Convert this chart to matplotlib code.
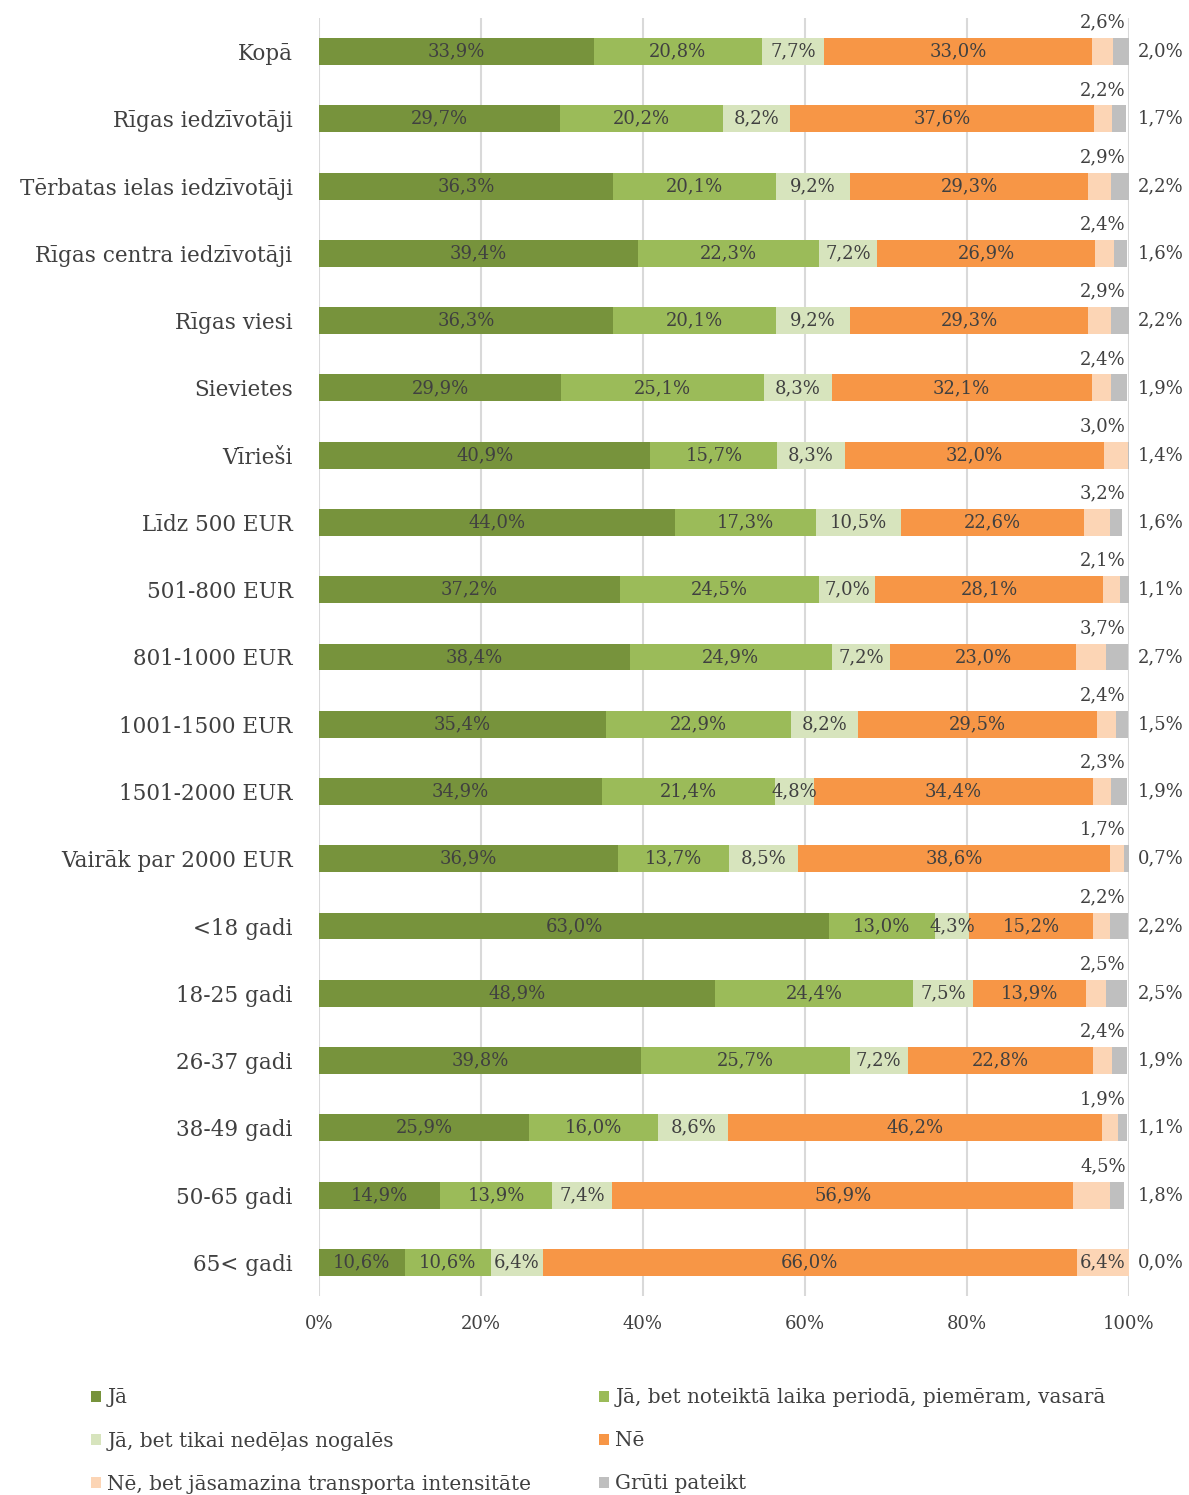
import numpy as np
import matplotlib
matplotlib.use('Agg')
import matplotlib.pyplot as plt
from matplotlib.patches import Patch

plt.rcParams['font.family'] = ['DejaVu Serif']

# Kategorijas (no augšas uz leju)
categories = ['Kopā', 'Rīgas iedzīvotāji', 'Tērbatas ielas iedzīvotāji',
              'Rīgas centra iedzīvotāji', 'Rīgas viesi', 'Sievietes', 'Vīrieši',
              'Līdz 500 EUR', '501-800 EUR', '801-1000 EUR', '1001-1500 EUR',
              '1501-2000 EUR', 'Vairāk par 2000 EUR', '<18 gadi', '18-25 gadi',
              '26-37 gadi', '38-49 gadi', '50-65 gadi', '65< gadi']

series_names = ['Jā', 'Jā, bet noteiktā laika periodā, piemēram, vasarā',
                'Jā, bet tikai nedēļas nogalēs', 'Nē',
                'Nē, bet jāsamazina transporta intensitāte', 'Grūti pateikt']

ja = [33.9, 29.7, 36.3, 39.4, 36.3, 29.9, 40.9, 44.0, 37.2, 38.4, 35.4, 34.9, 36.9, 63.0, 48.9, 39.8, 25.9, 14.9, 10.6]
ja_periods = [20.8, 20.2, 20.1, 22.3, 20.1, 25.1, 15.7, 17.3, 24.5, 24.9, 22.9, 21.4, 13.7, 13.0, 24.4, 25.7, 16.0, 13.9, 10.6]
ja_nedelas = [7.7, 8.2, 9.2, 7.2, 9.2, 8.3, 8.3, 10.5, 7.0, 7.2, 8.2, 4.8, 8.5, 4.3, 7.5, 7.2, 8.6, 7.4, 6.4]
ne = [33.0, 37.6, 29.3, 26.9, 29.3, 32.1, 32.0, 22.6, 28.1, 23.0, 29.5, 34.4, 38.6, 15.2, 13.9, 22.8, 46.2, 56.9, 66.0]
ne_samazina = [2.6, 2.2, 2.9, 2.4, 2.9, 2.4, 3.0, 3.2, 2.1, 3.7, 2.4, 2.3, 1.7, 2.2, 2.5, 2.4, 1.9, 4.5, 6.4]
gruti = [2.0, 1.7, 2.2, 1.6, 2.2, 1.9, 1.4, 1.6, 1.1, 2.7, 1.5, 1.9, 0.7, 2.2, 2.5, 1.9, 1.1, 1.8, 0.0]

colors = ['#77933C', '#9BBB59', '#D7E4BD', '#F79646', '#FCD5B5', '#BFBFBF']
txt = '#404040'

data = [ja, ja_periods, ja_nedelas, ne, ne_samazina, gruti]

fig = plt.figure(figsize=(11.89, 14.95), dpi=100)
ax = fig.add_axes([0.2683, 0.1331, 0.6812, 0.8549])

y = np.arange(len(categories))
left = np.zeros(len(categories))
for i, vals in enumerate(data):
    vals = np.array(vals)
    ax.barh(y, vals, left=left, height=0.4, color=colors[i], zorder=3)
    for j, v in enumerate(vals):
        lab = f'{v:.1f}%'.replace('.', ',')
        if i < 4 or (i == 4 and v >= 5):
            ax.text(left[j] + v / 2, y[j], lab, ha='center', va='center',
                    fontsize=13, color=txt, zorder=4)
        elif i == 4:
            ax.text(99.6, y[j] - 0.43, lab, ha='right', va='center',
                    fontsize=13, color=txt, clip_on=False)
        else:
            ax.text(103.9, y[j], lab, ha='center', va='center',
                    fontsize=13, color=txt, clip_on=False)
    left += vals

ax.set_xlim(0, 100)
ax.set_ylim(len(categories) - 0.5, -0.5)
ax.set_yticks(y)
ax.set_yticklabels(categories, fontsize=15.5, color=txt)
ax.set_xticks(np.arange(0, 101, 20))
ax.set_xticklabels([f'{t}%' for t in range(0, 101, 20)], fontsize=13, color=txt)
ax.tick_params(length=0, axis='y', pad=19)
ax.tick_params(length=0, axis='x', pad=14)
ax.grid(axis='x', color='#D9D9D9', linewidth=1.5, zorder=0)
for s in ax.spines.values():
    s.set_visible(False)

# Leģenda: rindās pa divām
handles = [Patch(facecolor=c, edgecolor='none') for c in colors]
order = [0, 2, 4, 1, 3, 5]
fig.legend([handles[k] for k in order], [series_names[k] for k in order],
           ncol=2, loc='upper left', bbox_to_anchor=(0.070, 0.0766),
           frameon=False, fontsize=14.4, labelcolor=txt,
           handlelength=0.5, handleheight=0.5, handletextpad=0.3,
           columnspacing=3.4, labelspacing=1.2, borderaxespad=0)

fig.savefig('out.png', dpi=100)
